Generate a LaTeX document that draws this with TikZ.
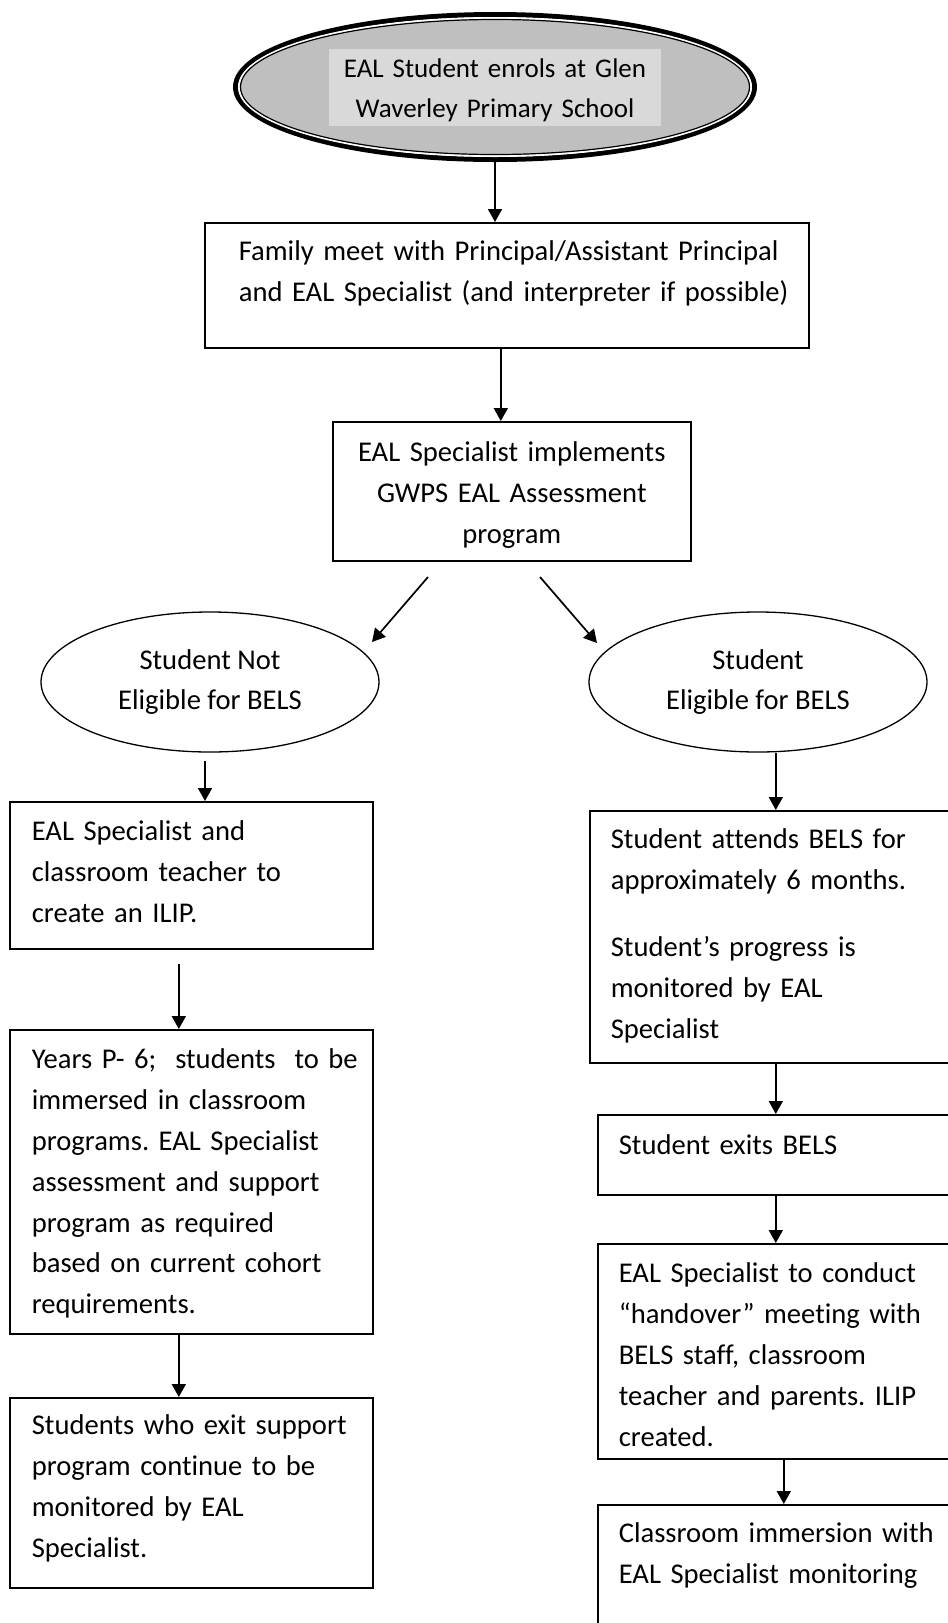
\documentclass[tikz,border=0pt]{standalone}
\usepackage{fontspec}
\setmainfont{Carlito}[Ligatures={TeX,NoCommon}]
\usetikzlibrary{shapes.geometric,arrows.meta}
\frenchspacing
\hyphenpenalty=10000
\exhyphenpenalty=10000
\definecolor{ovalgray}{gray}{0.75}
\definecolor{labelgray}{gray}{0.85}
\tikzset{
	every node/.style={font=\fontsize{28.6}{40.8}\selectfont},
	stepbox/.style={draw, line width=1.6pt, anchor=north west, inner sep=0pt, align=left},
	leftbox/.style={stepbox, text width=363pt, execute at begin node={\leftskip=22pt}},
	rightbox/.style={stepbox, text width=372pt, execute at begin node={\leftskip=21pt}},
	oval/.style={draw, ellipse, line width=1.3pt, align=center, inner sep=0pt, minimum width=338pt, minimum height=140pt},
	arr/.style={line width=1.7pt, -{Triangle[length=13pt,width=14pt]}}
}
\begin{document}
\begin{tikzpicture}[x=1pt,y=-1pt]
		\useasboundingbox (0,0) rectangle (948,1623);
		\clip (0,0) rectangle (948,1623);
		
		% start oval
		\node[ellipse, draw, fill=ovalgray, line width=5pt, inner sep=0pt, minimum width=519pt, minimum height=145pt] (enrol) at (495,87) {};
		\draw[white, line width=2pt] (enrol.center) ellipse [x radius=256, y radius=69];
		\draw[line width=1.2pt] (enrol.center) ellipse [x radius=254.5, y radius=67.5];
		\node[fill=labelgray, inner sep=0pt, text width=332pt, align=center, text height=29pt, text depth=48pt, font=\fontsize{27}{40}\selectfont] (enroltext) at (enrol.center) {EAL Student enrols at Glen\\Waverley Primary School};
		
		\node[stepbox, text width=604pt, execute at begin node={\leftskip=34pt}, text height=38pt, text depth=87pt] (family) at (204,222) {Family meet with Principal/Assistant Principal\\and EAL Specialist (and interpreter if possible)};
		\node[stepbox, align=center, text width=358pt, text height=40pt, text depth=99pt] (assess) at (332,421) {EAL Specialist implements\\GWPS EAL Assessment\\program};
		
		\node[oval] (noteligible) at (210,682) {Student Not\\Eligible for BELS};
		\node[oval] (eligible) at (758,682) {Student\\Eligible for BELS};
		
		% left column
		\node[leftbox, text height=39pt, text depth=108pt] (ilip) at (9,801) {EAL Specialist and\\classroom teacher to\\create an ILIP.};
		\node[leftbox, text height=39pt, text depth=265pt] (years) at (9,1029) {Years P- 6;\ \ students\ \ to be\\immersed in classroom\\programs. EAL Specialist\\assessment and support\\program as required\\based on current cohort\\requirements.};
		\node[leftbox, text height=37pt, text depth=153pt] (exit) at (9,1397) {Students who exit support\\program continue to be\\monitored by EAL\\Specialist.};
		
		% right column
		\node[rightbox, text height=38pt, text depth=214pt] (bels) at (589,810) {Student attends BELS for\\approximately 6 months.\\[26pt]Student’s progress is\\monitored by EAL\\Specialist};
		\node[rightbox, text height=40pt, text depth=40pt] (exits) at (597,1114) {Student exits BELS};
		\node[rightbox, text height=39pt, text depth=176pt] (handover) at (597,1243) {EAL Specialist to conduct\\“handover” meeting with\\BELS staff, classroom\\teacher and parents. ILIP\\created.};
		\node[rightbox, text height=38pt, text depth=140pt] (immersion) at (597,1504) {Classroom immersion with\\EAL Specialist monitoring};
		
		% arrows
		\draw[arr] (enrol.south) -- (enrol.south |- family.north);
		\coordinate (familyout) at ([xshift=-6pt]family.south);
		\draw[arr] (familyout) -- (familyout |- assess.north);
		
		\coordinate (notfrom) at (428,577);
		\coordinate (notto) at (372,642);
		\coordinate (elfrom) at (540,577);
		\coordinate (elto) at (597,643);
		\draw[arr] (notfrom) -- (notto);
		\draw[arr] (elfrom) -- (elto);
		
		\coordinate (notout) at ([xshift=-5pt]noteligible.south);
		\draw[arr, shorten <=8pt] (notout) -- (notout |- ilip.north);
		\coordinate (leftline) at ([xshift=-12.5pt]ilip.south);
		\draw[arr, shorten <=14pt] (leftline) -- (leftline |- years.north);
		\draw[arr] (leftline |- years.south) -- (leftline |- exit.north);
		
		\draw[arr] (eligible.south -| bels.north) -- (bels.north);
		\draw[arr] (bels.south) -- (bels.south |- exits.north);
		\draw[arr] (bels.south |- exits.south) -- (bels.south |- handover.north);
		\draw[arr] (handover.south) -- (handover.south |- immersion.north);
\end{tikzpicture}
\end{document}
